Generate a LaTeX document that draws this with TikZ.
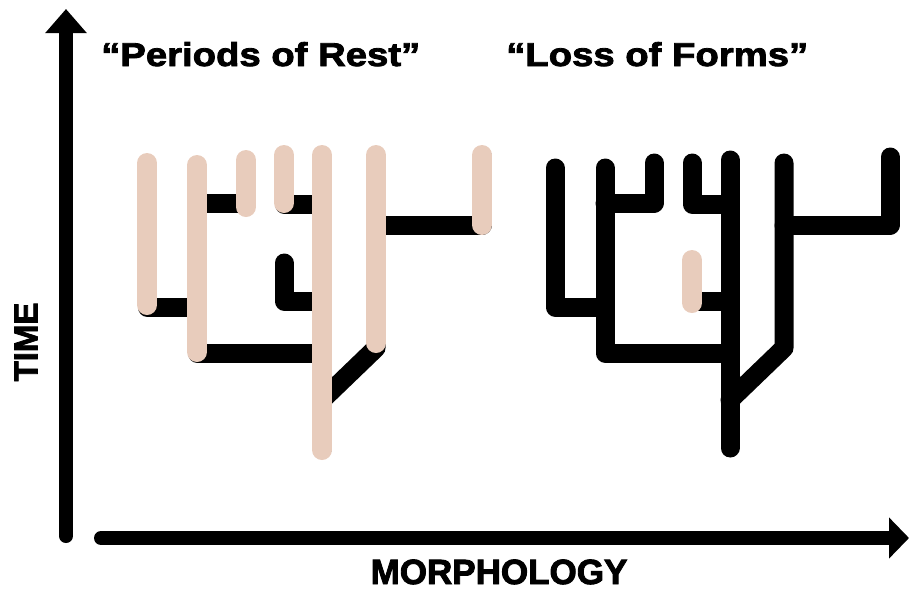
\documentclass[tikz,border=0pt]{standalone}
\usepackage{fontspec}
\setmainfont{Liberation Sans}
\newfontfamily\titlefont{Liberation Sans}[FakeStretch=1.16,BoldFeatures={FakeBold=2.5}]
\newfontfamily\axisfont{Liberation Sans}[BoldFeatures={FakeBold=2.5}]
\usetikzlibrary{arrows.meta}

\definecolor{restpink}{RGB}{232,204,188}

\tikzset{
    axisline/.style={line width=14pt, line cap=round, -{Triangle[length=24pt,width=40pt]}},
    branch/.style={line width=19pt, line cap=round, line join=round},
    resting/.style={line width=20pt, line cap=round, restpink},
    title/.style={font=\titlefont\bfseries\fontsize{33}{33}\selectfont, inner sep=0pt, anchor=base west},
    axislabel/.style={font=\axisfont\bfseries\fontsize{35}{35}\selectfont, inner sep=0pt},
    phylo/.pic={
        \draw[branch] (147,168) -- (147,307) -- (197,307);
        \draw[branch] (197,168) -- (197,353) -- (322,353);
        \draw[branch] (197,203) -- (246,203) -- (246,163);
        \draw[branch] (284,163) -- (284,204) -- (322,204);
        \draw[branch] (322,160) -- (322,448);
        \draw[branch] (284,263) -- (284,301) -- (322,301);
        \draw[branch] (376,163) -- (376,348) -- (322,400);
        \draw[branch] (376,225) -- (482,225) -- (482,157);
    }
}

\begin{document}
\begin{tikzpicture}[x=1pt, y=-1pt]
    \useasboundingbox (0,0) rectangle (909,590);

    % axes
    \coordinate (ybot) at (66,536);
    \coordinate (ytop) at (66,9);
    \coordinate (xleft) at (101,538);
    \coordinate (xright) at (909,538);
    \draw[axisline] (ybot) -- (ytop);
    \draw[axisline, -{Triangle[length=20pt,width=40pt]}] (xleft) -- (xright);

    \node[axislabel, anchor=base] (morph) at (499,584) {MORPHOLOGY};
    \node[axislabel, rotate=90, font=\axisfont\bfseries\fontsize{33}{33}\selectfont] (time) at (26,342) {TIME};

    \node[title] (rest) at (101,66) {“Periods of Rest”};
    \node[title] (loss) at (506,66) {“Loss of Forms”};

    % the same tree twice
    \pic at (0,0) {phylo};
    \pic at (408,0) {phylo};

    % lineages that rest
    \draw[resting] (147,163) -- (147,305);
    \draw[resting] (197,165) -- (197,352);
    \draw[resting] (246,160) -- (246,207);
    \draw[resting] (284,155) -- (284,203);
    \draw[resting] (322,155) -- (322,450);
    \draw[resting] (376,155) -- (376,343);
    \draw[resting] (482,155) -- (482,225);

    \draw[resting] (692,260) -- (692,303);
\end{tikzpicture}
\end{document}
